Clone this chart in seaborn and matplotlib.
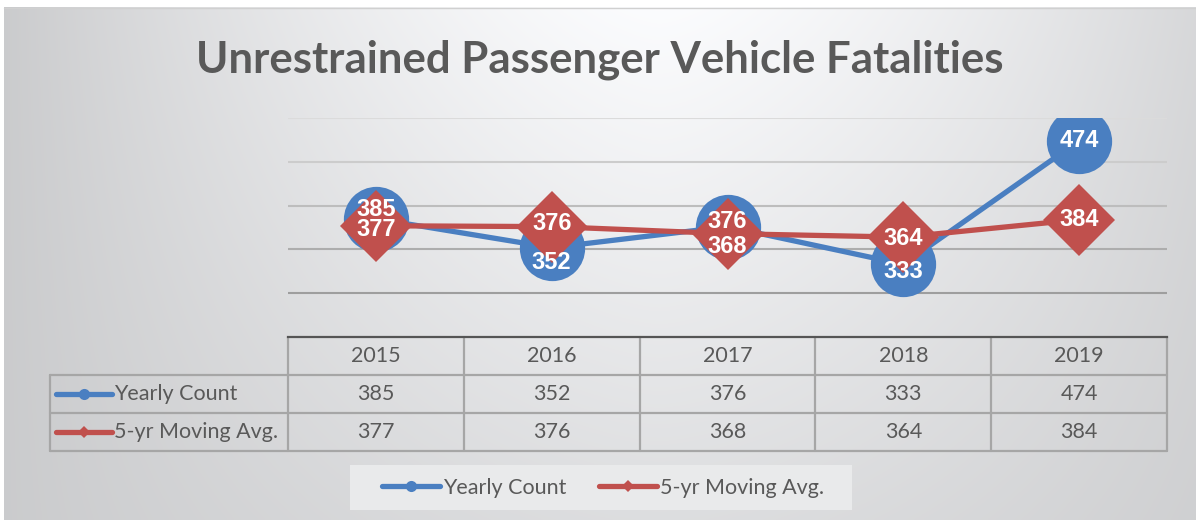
import matplotlib
matplotlib.use('Agg')
import matplotlib.pyplot as plt
import matplotlib.transforms as mtransforms
from matplotlib.lines import Line2D
from matplotlib.patches import Rectangle
import numpy as np
import pandas as pd
import seaborn as sns


years = ['2015', '2016', '2017', '2018', '2019']
yearly_count = [385, 352, 376, 333, 474]
moving_avg = [377, 376, 368, 364, 384]
series_names = ['Yearly Count', '5-yr Moving Avg.']
title = 'Unrestrained Passenger Vehicle Fatalities'

BLUE = '#4a7fc1'
RED = '#c0504d'
GREY_TXT = '#595959'
TITLE_FONT = 'Lato'
LABEL_FONT = 'Liberation Sans'

# label nudges in points (Excel moved some labels off centre)
blue_nudge = [7, -11, 4, -5, 0]
red_nudge = [-3, 2, -9, -1, 0]

W, H = 1196, 520

sns.set_theme(style='white')
plt.rcParams['font.family'] = [TITLE_FONT, 'DejaVu Sans']

fig = plt.figure(figsize=(W / 100, H / 100), dpi=100, facecolor='white')

# overlay in pixel coordinates: background gradient, table, legend box
ov = fig.add_axes([0, 0, 1, 1], zorder=0)
ov.set_xlim(0, W)
ov.set_ylim(H, 0)
ov.axis('off')

xx, yy = np.meshgrid(np.linspace(0, 1, 600), np.linspace(0, 1, 260))
edge = (np.abs(xx - 0.55) / 0.55) ** 1.5
val = 0.985 - 0.19 * edge - 0.12 * yy * (1 - edge)
rgb = np.dstack([val, val + 0.003, val + 0.01]).clip(0, 1)
ov.imshow(rgb, extent=[4, W, H, 7], aspect='auto', interpolation='bilinear', zorder=0)
ov.plot([4, W], [7.5, 7.5], color='#d0d0d0', lw=1, zorder=1)

# plot area
left, right, top, bottom = 288, 1167, 118, 337
ax = fig.add_axes([left / W, 1 - bottom / H, (right - left) / W, (bottom - top) / H], zorder=2)
ax.set_facecolor('none')

x = np.arange(len(years))
sns.lineplot(x=x, y=yearly_count, ax=ax, color=BLUE, linewidth=3.8, marker='o',
             markersize=47, markeredgewidth=0, zorder=2)
sns.lineplot(x=x, y=moving_avg, ax=ax, color=RED, linewidth=3.8, marker='D',
             markersize=37, markeredgewidth=0, zorder=3)

for i, v in enumerate(yearly_count):
    ax.annotate(str(v), (i, v), xytext=(0, blue_nudge[i]), textcoords='offset points',
                ha='center', va='center', color='white', fontsize=17, fontweight='bold',
                family=LABEL_FONT, zorder=5)
for i, v in enumerate(moving_avg):
    ax.annotate(str(v), (i, v), xytext=(0, red_nudge[i]), textcoords='offset points',
                ha='center', va='center', color='white', fontsize=17, fontweight='bold',
                family=LABEL_FONT, zorder=5)

ax.set_xlim(-0.5, len(years) - 0.5)
ax.set_ylim(250, 500)
ax.set_yticks([300, 350, 400, 450, 500])
ax.set_xticks([])
ax.tick_params(axis='y', length=0, labelleft=False)
ax.grid(axis='y', linewidth=1.5)
for g, c in zip(ax.get_ygridlines(), np.linspace(0.62, 0.86, 5)):
    g.set_color((c, c, c))
    g.set_zorder(0)
for s in ['left', 'right', 'top']:
    ax.spines[s].set_visible(False)
ax.spines['bottom'].set_color('#555555')
ax.spines['bottom'].set_linewidth(1.6)
ax.set_xlabel('')
ax.set_ylabel('')

# data table under the plot area
tr = mtransforms.blended_transform_factory(ax.transData, ov.transData)
rows_y = [337, 375, 413, 451]
key_left = 50
line_kw = dict(color='#a6a6a6', lw=1.6, zorder=3)
for xb in np.arange(len(years) + 1) - 0.5:
    ov.plot([xb, xb], [rows_y[0], rows_y[-1]], transform=tr, **line_kw)
for yb in rows_y[1:]:
    ov.plot([key_left, right], [yb, yb], **line_kw)
ov.plot([key_left, key_left], [rows_y[1], rows_y[-1]], **line_kw)

TXT = 15.5
row_mid = [(a + b) / 2 for a, b in zip(rows_y[:-1], rows_y[1:])]
for i, yr in enumerate(years):
    ov.text(i, row_mid[0], yr, transform=tr, ha='center', va='center',
            fontsize=TXT, color=GREY_TXT, zorder=4)
    ov.text(i, row_mid[1], str(yearly_count[i]), transform=tr, ha='center', va='center',
            fontsize=TXT, color=GREY_TXT, zorder=4)
    ov.text(i, row_mid[2], str(moving_avg[i]), transform=tr, ha='center', va='center',
            fontsize=TXT, color=GREY_TXT, zorder=4)

for name, col, mk, ms, ym in [(series_names[0], BLUE, 'o', 8, row_mid[1]),
                              (series_names[1], RED, 'D', 6, row_mid[2])]:
    ov.add_line(Line2D([56, 112], [ym, ym], color=col, lw=3.8, solid_capstyle='round', zorder=4))
    ov.add_line(Line2D([84], [ym], color=col, marker=mk, markersize=ms, markeredgewidth=0, zorder=4))
    ov.text(114, ym, name, ha='left', va='center', fontsize=TXT, color=GREY_TXT, zorder=4)

# legend at the bottom
ov.add_patch(Rectangle((350, 465), 502, 45, facecolor='#e9eaeb', edgecolor='none', zorder=2))
handles = [Line2D([], [], color=BLUE, lw=3.8, marker='o', markersize=8, markeredgewidth=0,
                  solid_capstyle='round'),
           Line2D([], [], color=RED, lw=3.8, marker='D', markersize=6, markeredgewidth=0,
                  solid_capstyle='round')]
leg = fig.legend(handles, series_names, loc='center', bbox_to_anchor=(603 / W, 1 - 487.5 / H),
                 ncol=2, frameon=False, fontsize=TXT, handlelength=2.7, handletextpad=0.15,
                 columnspacing=1.5, labelcolor=GREY_TXT)
leg.set_zorder(5)

fig.text(600 / W, 1 - 60 / H, title, ha='center', va='center', fontsize=31.5,
         fontweight='bold', color=GREY_TXT, family=TITLE_FONT, zorder=5)

fig.savefig('out.png', dpi=100, facecolor=fig.get_facecolor())
